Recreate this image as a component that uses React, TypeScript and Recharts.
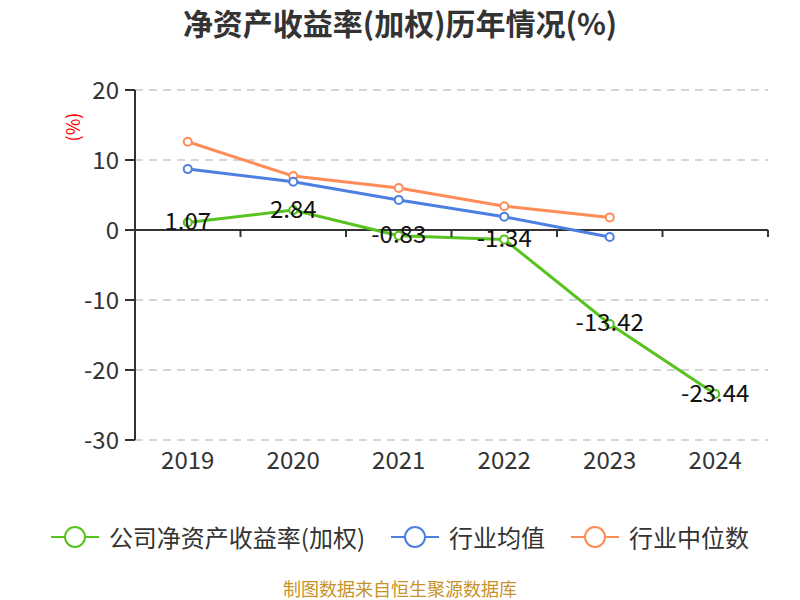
import React from 'react'
import { LineChart, Line, XAxis, YAxis, CartesianGrid, ReferenceLine, LabelList } from 'recharts'

const years = ['2019', '2020', '2021', '2022', '2023', '2024']
const companyRoe = [1.07, 2.84, -0.83, -1.34, -13.42, -23.44]
const industryMean = [8.7, 6.9, 4.3, 1.9, -1.0, null]
const industryMedian = [12.6, 7.7, 6.0, 3.4, 1.8, null]
const yTicks = [-30, -20, -10, 0, 10, 20]

const data = years.map((y, i) => ({
  year: y,
  company: companyRoe[i],
  mean: industryMean[i],
  median: industryMedian[i],
}))

const FONT = '"Noto Sans CJK SC", "Noto Sans", sans-serif'
const GREEN = '#58c21e'
const BLUE = '#4d7fe2'
const ORANGE = '#ff8b57'

const W = 800
const H = 480
const M = { top: 90, right: 32, bottom: 0, left: 0 }
const Y_AXIS_W = 135
const X_AXIS_H = 40
const DOMAIN: [number, number] = [-30, 20]

const plotLeft = M.left + Y_AXIS_W
const plotW = W - M.right - plotLeft
const plotH = H - M.top - M.bottom - X_AXIS_H
const band = plotW / years.length
const zeroY = M.top + ((DOMAIN[1] - 0) / (DOMAIN[1] - DOMAIN[0])) * plotH

const XTick = (props: any) => {
  const { x, y, payload, index } = props
  return (
    <g>
      <line x1={x + band / 2} x2={x + band / 2} y1={zeroY} y2={zeroY + 7} stroke="#333" strokeWidth={2} />
      {index === 0 && (
        <line x1={x - band / 2} x2={x - band / 2} y1={zeroY} y2={zeroY + 7} stroke="#333" strokeWidth={2} />
      )}
      <text x={x} y={y + 21} textAnchor="middle" fill="#333" fontSize={24} fontFamily={FONT}>
        {payload.value}
      </text>
    </g>
  )
}

const ValueLabel = (props: any) => {
  const { x, y, value } = props
  return (
    <text x={x} y={y - 3} textAnchor="middle" dominantBaseline="central" fill="#111" fontSize={24} fontFamily={FONT}>
      {value}
    </text>
  )
}

const legendItems = [
  { name: '公司净资产收益率(加权)', color: GREEN },
  { name: '行业均值', color: BLUE },
  { name: '行业中位数', color: ORANGE },
]

const LegendIcon = ({ color }: { color: string }) => (
  <svg width={48} height={26} style={{ marginRight: 10 }}>
    <line x1={0} x2={48} y1={13} y2={13} stroke={color} strokeWidth={2} />
    <circle cx={24} cy={13} r={10} fill="#fff" stroke={color} strokeWidth={2} />
  </svg>
)

export default function App() {
  return (
    <div style={{ position: 'absolute', left: 0, top: 0, width: 800, height: 600, background: '#fff', fontFamily: FONT, overflow: 'hidden' }}>
      <div style={{ position: 'absolute', top: 2, width: 800, textAlign: 'center', fontSize: 30, fontWeight: 'bold', color: '#333', lineHeight: '40px' }}>
        净资产收益率(加权)历年情况(%)
      </div>
      <div
        style={{
          position: 'absolute', left: 72, top: 127, color: 'red', fontSize: 18,
          transform: 'translate(-50%, -50%) rotate(-90deg)', whiteSpace: 'nowrap',
        }}
      >
        (%)
      </div>
      <div style={{ position: 'absolute', left: 0, top: 0 }}>
        <LineChart width={W} height={H} data={data} margin={M}>
          <CartesianGrid vertical={false} stroke="#c8c8c8" strokeDasharray="8 6" strokeWidth={1.5} />
          <XAxis
            dataKey="year"
            axisLine={false}
            tickLine={false}
            height={X_AXIS_H}
            tick={<XTick />}
            interval={0}
            padding={{ left: band / 2, right: band / 2 }}
          />
          <YAxis
            domain={DOMAIN}
            ticks={yTicks}
            width={Y_AXIS_W}
            stroke="#333"
            strokeWidth={2}
            tickSize={10}
            tick={{ fill: '#333', fontSize: 24, fontFamily: FONT }}
            tickMargin={6}
          />
          <ReferenceLine y={0} stroke="#333" strokeWidth={2} />
          <Line
            dataKey="median"
            stroke={ORANGE}
            strokeWidth={3}
            dot={{ r: 4, fill: '#fff', stroke: ORANGE, strokeWidth: 2 }}
            isAnimationActive={false}
          />
          <Line
            dataKey="mean"
            stroke={BLUE}
            strokeWidth={3}
            dot={{ r: 4, fill: '#fff', stroke: BLUE, strokeWidth: 2 }}
            isAnimationActive={false}
          />
          <Line
            dataKey="company"
            stroke={GREEN}
            strokeWidth={3}
            dot={{ r: 4, fill: '#fff', stroke: GREEN, strokeWidth: 2 }}
            isAnimationActive={false}
          >
            <LabelList dataKey="company" content={<ValueLabel />} />
          </Line>
        </LineChart>
      </div>
      <div style={{ position: 'absolute', top: 520, left: 0, width: 800, display: 'flex', justifyContent: 'center', alignItems: 'center' }}>
        {legendItems.map((it, i) => (
          <div key={it.name} style={{ display: 'flex', alignItems: 'center', marginLeft: i ? 26 : 0 }}>
            <LegendIcon color={it.color} />
            <span style={{ fontSize: 24, color: '#333', lineHeight: '34px' }}>{it.name}</span>
          </div>
        ))}
      </div>
      <div style={{ position: 'absolute', top: 577, width: 800, textAlign: 'center', fontSize: 18, color: '#c8922a', lineHeight: '22px' }}>
        制图数据来自恒生聚源数据库
      </div>
    </div>
  )
}
